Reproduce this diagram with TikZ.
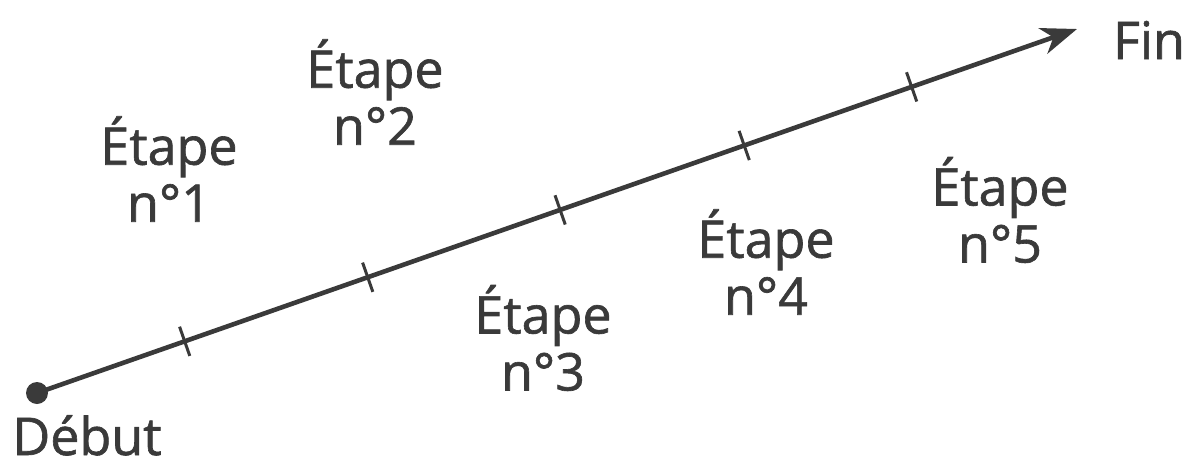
\documentclass[tikz,border=0pt]{standalone}
\usepackage{fontspec}
\setmainfont{Open Sans}[FakeBold=1.2]
\usetikzlibrary{arrows.meta,calc}
\definecolor{ink}{HTML}{3A3A3A}
\begin{document}
\begin{tikzpicture}[x=1pt,y=-1pt,
  lbl/.style={text=ink,font=\fontsize{52}{57}\selectfont,align=center,inner sep=0pt},
  axis/.style={draw=ink,line width=4.6pt,-{Stealth[length=36pt,width=27pt,inset=11pt]}},
  tick/.style={draw=ink,line width=3pt}]
\useasboundingbox (0,0) rectangle (1200,466);
\coordinate (S) at (37,393);
\coordinate (E) at (1077,29);
\draw[axis] (S) -- (E);
\fill[ink] (S) circle (11);
\foreach \t [count=\i] in {0.142,0.318,0.503,0.680,0.841}{
  \coordinate (T\i) at ($(S)!\t!(E)$);
  \draw[tick] ($(T\i)!15.5pt!90:(E)$) -- ($(T\i)!-15.5pt!90:(E)$);
}
\node[lbl] (l1) at (169,169) {Étape\\n°1};
\node[lbl] (l2) at (375,92) {Étape\\n°2};
\node[lbl] (l3) at (543,338) {Étape\\n°3};
\node[lbl] (l4) at (766,262) {Étape\\n°4};
\node[lbl] (l5) at (1000,210) {Étape\\n°5};
\node[lbl,anchor=base] (deb) at (87,455) {Début};
\node[lbl] (fin) at (1149,40) {Fin};
\end{tikzpicture}
\end{document}
